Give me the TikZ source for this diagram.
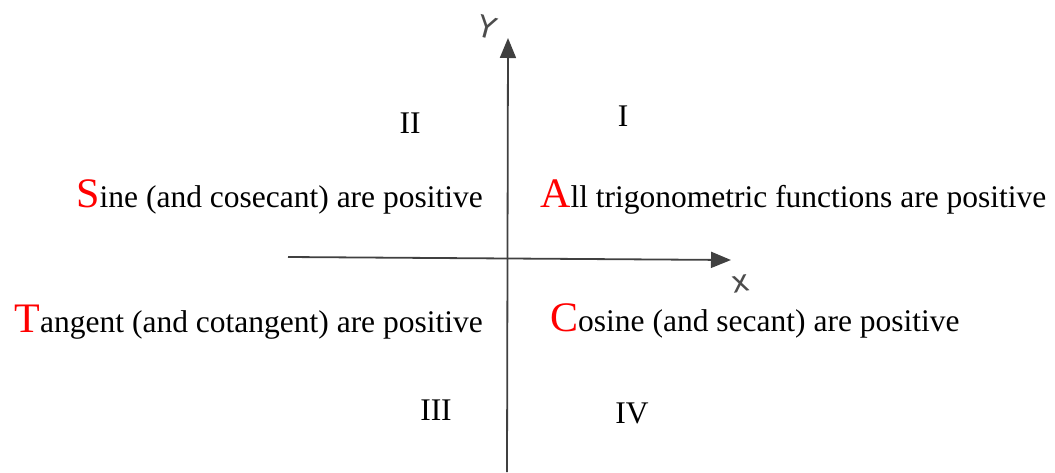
\documentclass[tikz,border=0pt]{standalone}
\usepackage{fontspec}
\setmainfont{Liberation Serif}
\newfontfamily\handfont{DejaVu Sans}
\usetikzlibrary{arrows.meta}
\begin{document}
\begin{tikzpicture}[x=1pt,y=-1pt,
  lbl/.style={inner sep=0pt,font=\fontsize{31.5}{34}\selectfont},
  numeral/.style={inner sep=0pt,font=\fontsize{31.5}{34}\selectfont},
  axis/.style={line width=1.8pt,draw=black!75,-{Triangle[length=20pt,width=16pt]}},
  hand/.style={inner sep=0pt,text=black!70,font=\handfont\fontsize{30}{32}\selectfont}]
\useasboundingbox (0,0) rectangle (1055,472);
\coordinate (xs) at (288,257);
\coordinate (xe) at (731,260);
\coordinate (ys) at (507,472);
\coordinate (ye) at (508,38);
\draw[axis] (xs) -- (xe);
\draw[axis] (ys) -- (ye);
\node[hand,rotate=-15] (ylab) at (487,27) {Y};
\node[hand,rotate=10] (xlab) at (741,284) {x};
\newcommand\redcap[1]{{\color{red}\fontsize{42}{44}\selectfont #1}}
\node[lbl,anchor=base east] (q2) at (483,207) {\redcap{S}ine (and cosecant) are positive};
\node[lbl,anchor=base west] (q1) at (540,207) {\redcap{A}ll trigonometric functions are positive};
\node[lbl,anchor=base east] (q3) at (483,332) {\redcap{T}angent (and cotangent) are positive};
\node[lbl,anchor=base west] (q4) at (550,331) {\redcap{C}osine (and secant) are positive};
\node[numeral] (n2) at (410,123) {II};
\node[numeral] (n1) at (623,116) {I};
\node[numeral] (n3) at (436,410) {III};
\node[numeral] (n4) at (632,413) {IV};
\end{tikzpicture}
\end{document}
